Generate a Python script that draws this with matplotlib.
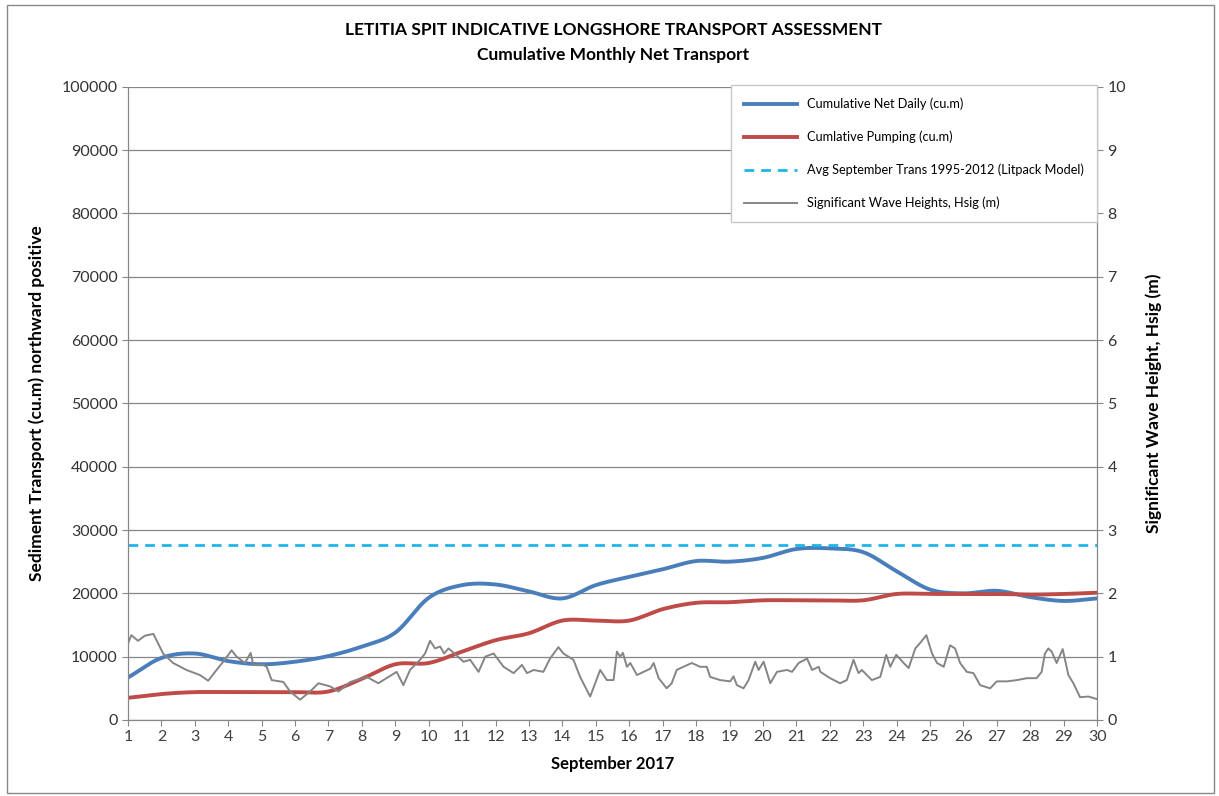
import numpy as np
import matplotlib
matplotlib.use("Agg")
import matplotlib.pyplot as plt
from matplotlib.patches import Rectangle

plt.rcParams['font.family'] = ['Lato', 'DejaVu Sans']

# daily cumulative values (cu.m)
days = list(range(1, 31))
net_daily = [6700, 9800, 10500, 9300, 8800, 9200, 10100, 11600, 13800, 19300,
             21300, 21400, 20300, 19200, 21300, 22600, 23800, 25100, 25000, 25600,
             27000, 27100, 26500, 23500, 20600, 20000, 20400, 19400, 18800, 19200]
pumping = [3500, 4100, 4400, 4400, 4400, 4400, 4500, 6500, 8800, 9000,
           10800, 12600, 13700, 15700, 15700, 15700, 17500, 18500, 18600, 18900,
           18900, 18900, 18900, 19900, 19900, 19900, 19900, 19800, 19900, 20100]
avg_sept = 27700

# significant wave heights (m)
wave_day = [1.0, 1.1, 1.3, 1.5, 1.76, 2.05, 2.35, 2.75, 3.15, 3.40, 3.65, 3.85, 4.10, 4.25,
            4.5, 4.67, 4.75, 5.05, 5.15, 5.30, 5.65, 5.85, 6.15, 6.45, 6.70, 7.05, 7.30,
            7.65, 8.15, 8.49, 9.04, 9.24, 9.44, 9.74, 9.89, 10.04, 10.19, 10.34, 10.46,
            10.59, 10.77, 11.04, 11.24, 11.49, 11.69, 11.94, 12.24, 12.54, 12.79, 12.94,
            13.14, 13.43, 13.63, 13.88, 14.03, 14.33, 14.53, 14.83, 15.13, 15.33, 15.53,
            15.63, 15.73, 15.81, 15.93, 16.03, 16.23, 16.43, 16.63, 16.73, 16.88, 17.12,
            17.27, 17.42, 17.62, 17.87, 18.12, 18.32, 18.42, 18.72, 19.02, 19.12, 19.22,
            19.42, 19.57, 19.77, 19.87, 20.02, 20.22, 20.42, 20.72, 20.87, 21.07, 21.32,
            21.47, 21.67, 21.72, 22.01, 22.31, 22.51, 22.71, 22.86, 22.96, 23.26, 23.51,
            23.69, 23.81, 23.99, 24.21, 24.36, 24.56, 24.71, 24.89, 25.06, 25.21, 25.41,
            25.60, 25.75, 25.90, 26.10, 26.30, 26.50, 26.80, 27.00, 27.30, 27.60, 27.90,
            28.19, 28.34, 28.44, 28.54, 28.64, 28.79, 28.97, 29.14, 29.29, 29.49, 29.74, 30.0]
wave_h = [1.21, 1.34, 1.25, 1.33, 1.36, 1.05, 0.90, 0.79, 0.71, 0.62, 0.79, 0.92, 1.10, 1.00,
          0.90, 1.06, 0.87, 0.87, 0.84, 0.63, 0.60, 0.45, 0.32, 0.45, 0.58, 0.53, 0.45,
          0.60, 0.68, 0.58, 0.76, 0.55, 0.79, 0.95, 1.05, 1.25, 1.13, 1.16, 1.05,
          1.13, 1.05, 0.92, 0.95, 0.76, 1.00, 1.05, 0.84, 0.74, 0.87, 0.74,
          0.79, 0.76, 0.97, 1.15, 1.05, 0.95, 0.68, 0.37, 0.79, 0.63, 0.63,
          1.08, 1.00, 1.06, 0.84, 0.90, 0.71, 0.76, 0.81, 0.90, 0.66, 0.50,
          0.58, 0.79, 0.84, 0.90, 0.84, 0.84, 0.68, 0.63, 0.61, 0.69, 0.55,
          0.50, 0.63, 0.92, 0.79, 0.92, 0.58, 0.76, 0.79, 0.76, 0.90, 0.97,
          0.79, 0.84, 0.76, 0.66, 0.58, 0.63, 0.95, 0.74, 0.79, 0.63, 0.68,
          1.03, 0.84, 1.03, 0.90, 0.82, 1.13, 1.22, 1.34, 1.05, 0.90, 0.84,
          1.18, 1.13, 0.90, 0.76, 0.74, 0.55, 0.50, 0.61, 0.61, 0.63, 0.66,
          0.66, 0.76, 1.05, 1.13, 1.08, 0.90, 1.12, 0.71, 0.58, 0.36, 0.37, 0.33]


# smooth line like the spreadsheet's "smoothed line" option (Catmull-Rom)
def smooth(x, y, n=20):
    x = np.asarray(x, float)
    y = np.asarray(y, float)
    px = np.concatenate([[2 * x[0] - x[1]], x, [2 * x[-1] - x[-2]]])
    py = np.concatenate([[2 * y[0] - y[1]], y, [2 * y[-1] - y[-2]]])
    xs, ys = [], []
    t = np.linspace(0, 1, n, endpoint=False)
    for i in range(1, len(px) - 2):
        for p, out in ((px, xs), (py, ys)):
            p0, p1, p2, p3 = p[i - 1], p[i], p[i + 1], p[i + 2]
            out.extend(0.5 * ((2 * p1) + (-p0 + p2) * t
                              + (2 * p0 - 5 * p1 + 4 * p2 - p3) * t ** 2
                              + (-p0 + 3 * p1 - 3 * p2 + p3) * t ** 3))
    xs.append(x[-1])
    ys.append(y[-1])
    return np.array(xs), np.array(ys)


fig = plt.figure(figsize=(12.19, 7.96), dpi=100)
fig.patches.append(Rectangle((0.006, 0.004), 0.99, 0.99, transform=fig.transFigure,
                             fill=False, edgecolor='#888888', lw=1))
ax = fig.add_axes([0.105, 0.0955, 0.795, 0.7955])
ax2 = ax.twinx()

grey = '#868686'
ax.set_xlim(1, 30)
ax.set_ylim(0, 100000)
ax2.set_ylim(0, 10)
ax.set_yticks(np.arange(0, 100001, 10000))
ax2.set_yticks(np.arange(0, 11, 1))
ax.set_xticks(days)
ax.grid(axis='y', color=grey, lw=0.9)
ax.set_axisbelow(True)

bx, by = smooth(days, net_daily)
rx, ry = smooth(days, pumping)
l1, = ax.plot(bx, by, color='#4a7ebb', lw=2.8, label='Cumulative Net Daily (cu.m)', zorder=4)
l2, = ax.plot(rx, ry, color='#be4b48', lw=2.8, label='Cumlative Pumping (cu.m)', zorder=4)
l3, = ax.plot([1, 30], [avg_sept, avg_sept], color='#1fb5ea', lw=2, ls=(0, (3.5, 2.5)),
              label='Avg September Trans 1995-2012 (Litpack Model)', zorder=4)
l4, = ax2.plot(wave_day, wave_h, color='#858585', lw=1.4,
               label='Significant Wave Heights, Hsig (m)', zorder=3)

for a in (ax, ax2):
    for s in a.spines.values():
        s.set_color(grey)
    a.spines['top'].set_visible(False)
    a.tick_params(colors='#404040', labelsize=11.5, length=4, color=grey)
    a.tick_params(axis='y', labelcolor='#333333')

ax.set_ylabel('Sediment Transport (cu.m) northward positive', fontsize=12.5,
              fontweight='bold', labelpad=12)
ax2.set_ylabel('Significant Wave Height, Hsig (m)', fontsize=12.5, fontweight='bold',
               labelpad=14)
ax.set_xlabel('September 2017', fontsize=12, fontweight='bold', labelpad=8)
fig.text(0.503, 0.962, 'LETITIA SPIT INDICATIVE LONGSHORE TRANSPORT ASSESSMENT',
         ha='center', va='center', fontsize=12.5, fontweight='bold')
fig.text(0.503, 0.931, 'Cumulative Monthly Net Transport', ha='center', va='center',
         fontsize=12.5, fontweight='bold')

leg = ax2.legend(handles=[l1, l2, l3, l4], loc='upper right', bbox_to_anchor=(1.0, 1.003),
                 borderaxespad=0, fontsize=9.2, labelspacing=1.6, handlelength=4.2,
                 borderpad=1.0, fancybox=False, framealpha=1, edgecolor='#c8c8c8')
leg.set_zorder(10)

fig.savefig('out.png', dpi=100)
